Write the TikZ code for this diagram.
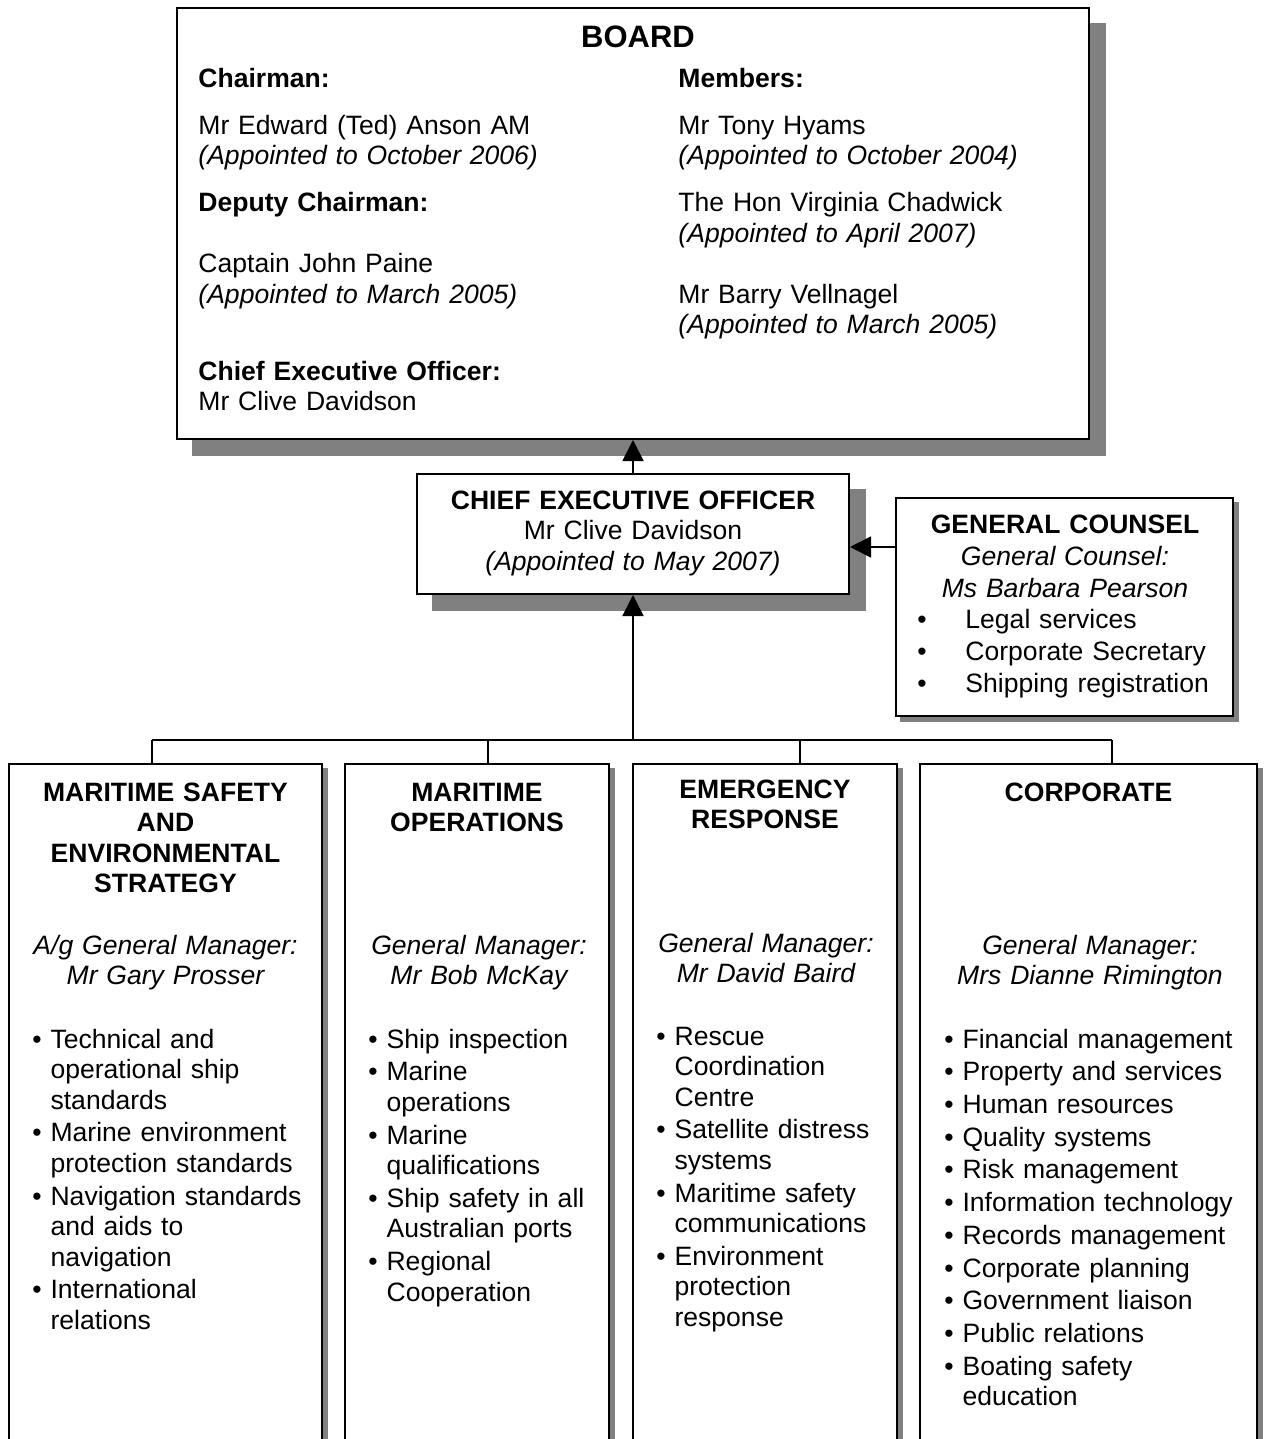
\documentclass[tikz,border=0pt]{standalone}
\usepackage{fontspec}
\setmainfont{Liberation Sans}
\usetikzlibrary{arrows.meta, positioning, fit, backgrounds}
\newcommand{\pxl}{0.452pt}
\newcommand{\bul}{\textbullet\ }
\newcommand{\bulind}{\phantom{\textbullet\ }}
\definecolor{shadowgray}{RGB}{128, 128, 128}
\tikzset{
  >=Stealth,
  orgbox/.style={draw=black, line width=0.9pt, fill=white, inner sep=0pt},
  dropshade/.style={fill=shadowgray},
  flowarrow/.style={-{Triangle[length=9.5pt, width=9.5pt]}, line width=0.7pt, black},
  busline/.style={line width=0.7pt, black},
  plaintext/.style={inner sep=0pt, font=\fontsize{12}{13.8}\selectfont},
  headtext/.style={inner sep=0pt, font=\fontsize{12}{13.8}\selectfont\bfseries, align=center, anchor=base},
  mgrtext/.style={inner sep=0pt, font=\fontsize{12}{13.8}\selectfont\itshape, align=center, anchor=base},
  listtext/.style={inner sep=0pt, font=\fontsize{12}{13.8}\selectfont, align=left, anchor=base west, text width=300*\pxl}
}

\begin{document}
\begin{tikzpicture}[x=0.452pt, y=-0.452pt]
\useasboundingbox (0,0) rectangle (1264,1439);

% boxes
\node[orgbox, fit={(177,8) (1089,439)}] (board) {};
\node[orgbox, fit={(417,474) (849,594)}] (ceo) {};
\node[orgbox, fit={(896,498) (1233,716)}] (counsel) {};
\node[orgbox, fit={(9,764) (322,1470)}] (msafety) {};
\node[orgbox, fit={(345,764) (609,1470)}] (mops) {};
\node[orgbox, fit={(633,764) (897,1470)}] (emerg) {};
\node[orgbox, fit={(920,764) (1257,1470)}] (corp) {};

% shadows
\begin{scope}[on background layer]
\fill[dropshade] ([shift={(16,16)}]board.south west) rectangle ([shift={(16,16)}]board.north east);
\fill[dropshade] ([shift={(16,16)}]ceo.south west) rectangle ([shift={(16,16)}]ceo.north east);
\foreach \b in {counsel, msafety, mops, emerg, corp}
  \fill[dropshade] ([shift={(5,5)}]\b.south west) rectangle ([shift={(5,5)}]\b.north east);
\end{scope}

% board
\node[plaintext, font=\fontsize{14}{16}\selectfont\bfseries, anchor=base] (boardtitle) at (638,48) {BOARD};
\node[plaintext, text width=420*\pxl, align=left, anchor=base west] (boardleft) at (198,88)
{\textbf{Chairman:}\\[7pt]
Mr Edward (Ted) Anson AM\\
\textit{(Appointed to October 2006)}\\[7.5pt]
\textbf{Deputy Chairman:}\\[13.8pt]
Captain John Paine\\
\textit{(Appointed to March 2005)}\\[21pt]
\textbf{Chief Executive Officer:}\\
Mr Clive Davidson};
\node[plaintext, text width=400*\pxl, align=left, anchor=base west] (boardright) at (678,88)
{\textbf{Members:}\\[7pt]
Mr Tony Hyams\\
\textit{(Appointed to October 2004)}\\[7.5pt]
The Hon Virginia Chadwick\\
\textit{(Appointed to April 2007)}\\[13.8pt]
Mr Barry Vellnagel\\
\textit{(Appointed to March 2005)}};

% ceo and counsel
\node[plaintext, text width=420*\pxl, align=center, anchor=base] (ceotext) at (633,509)
{\textbf{CHIEF EXECUTIVE OFFICER}\\ Mr Clive Davidson\\ \textit{(Appointed to May 2007)}};
\node[plaintext, font=\fontsize{12}{14.5}\selectfont, text width=330*\pxl, align=center, anchor=base] (counselhead) at (1065,533)
{\textbf{GENERAL COUNSEL}\\ \textit{General Counsel:}\\ \textit{Ms Barbara Pearson}};
\node[plaintext, font=\fontsize{12}{14.5}\selectfont, text width=320*\pxl, align=left, anchor=base west] (counsellist) at (917,628)
{\makebox[21.7pt][l]{\textbullet}Legal services\\
\makebox[21.7pt][l]{\textbullet}Corporate Secretary\\
\makebox[21.7pt][l]{\textbullet}Shipping registration};

% divisions
\node[headtext, text width=290*\pxl] (msafetyhead) at (165.5,801) {MARITIME SAFETY\\ AND\\ ENVIRONMENTAL\\ STRATEGY};
\node[mgrtext, text width=290*\pxl] (msafetymgr) at (165.5,954) {A/g General Manager:\\ Mr Gary Prosser};
\node[listtext] (msafetylist) at (32,1048)
{\bul Technical and\\ \bulind operational ship\\ \bulind standards\\[1pt]
\bul Marine environment\\ \bulind protection standards\\[1pt]
\bul Navigation standards\\ \bulind and aids to\\ \bulind navigation\\[1pt]
\bul International\\ \bulind relations};

\node[headtext, text width=250*\pxl] (mopshead) at (477,801) {MARITIME\\ OPERATIONS};
\node[mgrtext, text width=250*\pxl] (mopsmgr) at (479,954) {General Manager:\\ Mr Bob McKay};
\node[listtext] (mopslist) at (368,1048)
{\bul Ship inspection\\[1pt]
\bul Marine\\ \bulind operations\\[1pt]
\bul Marine\\ \bulind qualifications\\[1pt]
\bul Ship safety in all\\ \bulind Australian ports\\[1pt]
\bul Regional\\ \bulind Cooperation};

\node[headtext, text width=250*\pxl] (emerghead) at (765,798) {EMERGENCY\\ RESPONSE};
\node[mgrtext, text width=250*\pxl] (emergmgr) at (766,952) {General Manager:\\ Mr David Baird};
\node[listtext] (emerglist) at (656,1045)
{\bul Rescue\\ \bulind Coordination\\ \bulind Centre\\[1pt]
\bul Satellite distress\\ \bulind systems\\[1pt]
\bul Maritime safety\\ \bulind communications\\[1pt]
\bul Environment\\ \bulind protection\\ \bulind response};

\node[headtext, text width=320*\pxl] (corphead) at (1088.5,801) {CORPORATE};
\node[mgrtext, text width=320*\pxl] (corpmgr) at (1090,954) {General Manager:\\ Mrs Dianne Rimington};
\node[listtext] (corplist) at (944,1048)
{\bul Financial management\\[1pt]
\bul Property and services\\[1pt]
\bul Human resources\\[1pt]
\bul Quality systems\\[1pt]
\bul Risk management\\[1pt]
\bul Information technology\\[1pt]
\bul Records management\\[1pt]
\bul Corporate planning\\[1pt]
\bul Government liaison\\[1pt]
\bul Public relations\\[1pt]
\bul Boating safety\\ \bulind education};

% connectors
\coordinate (bus) at (633,740);
\coordinate (gcjoin) at (896,547);
\coordinate (s1) at (152,740);
\coordinate (s2) at (488,740);
\coordinate (s3) at (800,740);
\coordinate (s4) at (1112,740);
\draw[flowarrow] (ceo.north) -- (board.south);
\draw[flowarrow] (bus) -- (ceo.south);
\draw[flowarrow] (counsel.west |- gcjoin) -- (ceo.east |- gcjoin);
\draw[busline] (s1) -- (s4);
\draw[busline] (s1) -- (s1 |- msafety.north);
\draw[busline] (s2) -- (s2 |- mops.north);
\draw[busline] (s3) -- (s3 |- emerg.north);
\draw[busline] (s4) -- (s4 |- corp.north);
\end{tikzpicture}
\end{document}
